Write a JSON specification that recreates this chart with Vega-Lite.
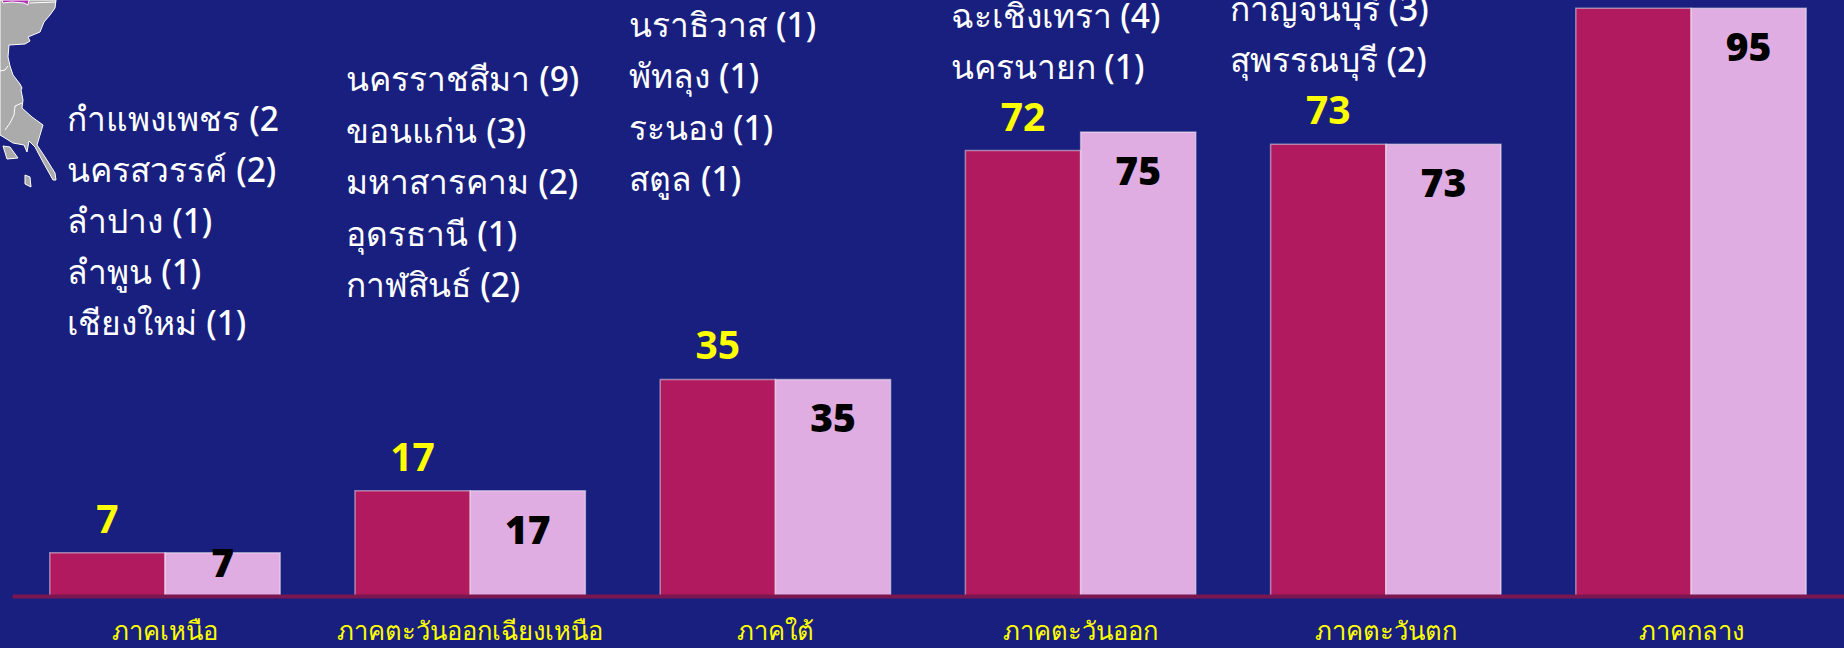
{
"$schema":"https://vega.github.io/schema/vega-lite/v6.json",
"width":1832,"height":596,
"autosize":"none",
"padding":{"left":12,"top":0,"right":0,"bottom":52},
"background":"#181F7E",
"config":{"view":{"stroke":null},"font":"Noto Sans"},
"datasets":{
"bars":[
{"region":"ภาคเหนือ","series":"a","value":7},
{"region":"ภาคเหนือ","series":"b","value":7},
{"region":"ภาคตะวันออกเฉียงเหนือ","series":"a","value":17},
{"region":"ภาคตะวันออกเฉียงเหนือ","series":"b","value":17},
{"region":"ภาคใต้","series":"a","value":35},
{"region":"ภาคใต้","series":"b","value":35},
{"region":"ภาคตะวันออก","series":"a","value":72},
{"region":"ภาคตะวันออก","series":"b","value":75},
{"region":"ภาคตะวันตก","series":"a","value":73},
{"region":"ภาคตะวันตก","series":"b","value":73},
{"region":"ภาคกลาง","series":"a","value":95},
{"region":"ภาคกลาง","series":"b","value":95}
],
"lists":[
{"region":"ภาคเหนือ","value":7,"lines":"กำแพงเพชร (2\nนครสวรรค์ (2)\nลำปาง (1)\nลำพูน (1)\nเชียงใหม่ (1)"},
{"region":"ภาคตะวันออกเฉียงเหนือ","value":17,"lines":"นครราชสีมา (9)\nขอนแก่น (3)\nมหาสารคาม (2)\nอุดรธานี (1)\nกาฬสินธ์ (2)"},
{"region":"ภาคใต้","value":35,"lines":"นราธิวาส (1)\nพัทลุง (1)\nระนอง (1)\nสตูล (1)"},
{"region":"ภาคตะวันออก","value":72,"lines":"ฉะเชิงเทรา (4)\nนครนายก (1)"},
{"region":"ภาคตะวันตก","value":73,"lines":"กาญจนบุรี (3)\nสุพรรณบุรี (2)"}
],
"land":[{"type":"Feature","properties":{},"geometry":{"type":"Polygon","coordinates":[[[0,0],[56,0],[55,8],[50,15],[44,22],[40,32],[28,37],[30,41],[25,44],[9,45],[8,57],[10,66],[13,75],[20,84],[22,88],[21,90],[23,100],[22,108],[32,117],[43,125],[40,135],[37,145],[45,157],[55,173],[56,180],[53,180],[43,162],[35,147],[29,141],[27,152],[24,145],[13,143],[5,138],[0,135],[0,0]]]}},
{"type":"Feature","properties":{},"geometry":{"type":"Polygon","coordinates":[[[3,146],[10,147],[18,158],[7,159],[3,146]]]}},
{"type":"Feature","properties":{},"geometry":{"type":"Polygon","coordinates":[[[25,175],[30,177],[31,187],[25,184],[25,175]]]}}],
"borders":[{"type":"Feature","properties":{},"geometry":{"type":"MultiLineString","coordinates":[[[56,2],[30,3]],[[0,71],[5,70],[8,66]],[[22,103],[15,106],[14,115],[10,123],[5,130]]]}}],
"province":[{"type":"Feature","properties":{},"geometry":{"type":"Polygon","coordinates":[[[2,0],[29,0],[28,5],[24,3],[12,2],[3,3],[2,0]]]}}]
},
"layer":[
{"data":{"name":"land"},"projection":{"type":"identity","scale":1,"translate":[-12,0]},"mark":{"type":"geoshape","clip":false,"fill":"#ABABAB","stroke":"#FFFFFF","strokeWidth":1}},
{"data":{"name":"province"},"projection":{"type":"identity","scale":1,"translate":[-12,0]},"mark":{"type":"geoshape","clip":false,"fill":"#B233B2","stroke":"#FFFFFF","strokeWidth":1}},
{"data":{"name":"borders"},"projection":{"type":"identity","scale":1,"translate":[-12,0]},"mark":{"type":"geoshape","clip":false,"filled":false,"stroke":"#FFFFFF","strokeWidth":1}},
{"data":{"name":"bars"},
"mark":{"type":"bar","stroke":"#FFFFFF","strokeOpacity":0.45,"strokeWidth":1.5},
"encoding":{
"x":{"field":"region","type":"nominal","sort":null,"title":null,
"scale":{"paddingInner":0.245,"paddingOuter":0.1238},
"axis":{"ticks":false,"labelAngle":0,"domain":true,"domainColor":"#7A1650","domainWidth":4,"labelColor":"#FFFF00","labelFontSize":25.5,"labelFont":"Noto Sans","labelFontWeight":500,"labelPadding":23,"labelOverlap":false,"labelLimit":400,"zindex":1}},
"xOffset":{"field":"series","type":"nominal","scale":{"paddingInner":0}},
"y":{"field":"value","type":"quantitative","title":null,"scale":{"domain":[0,96.33],"nice":false},"axis":null},
"color":{"field":"series","type":"nominal","legend":null,"scale":{"domain":["a","b"],"range":["#B21A5F","#DFADE2"]}}
}},
{"data":{"name":"bars"},"transform":[{"filter":"datum.series==='a' && datum.value<90"}],
"mark":{"type":"text","color":"#FFFF00","fontSize":39,"fontWeight":"bold","baseline":"middle","dy":-32},
"encoding":{"x":{"field":"region","type":"nominal","sort":null},"xOffset":{"field":"series","type":"nominal"},"y":{"field":"value","type":"quantitative"},"text":{"field":"value","type":"quantitative"}}},
{"data":{"name":"bars"},"transform":[{"filter":"datum.series==='b' && datum.value===7"}],
"mark":{"type":"text","color":"#000000","fontSize":39,"fontWeight":900,"baseline":"middle","dy":12},
"encoding":{"x":{"field":"region","type":"nominal","sort":null},"xOffset":{"field":"series","type":"nominal"},"y":{"field":"value","type":"quantitative"},"text":{"field":"value","type":"quantitative"}}},
{"data":{"name":"bars"},"transform":[{"filter":"datum.series==='b' && datum.value!==7"}],
"mark":{"type":"text","color":"#000000","fontSize":39,"fontWeight":900,"baseline":"middle","dy":41},
"encoding":{"x":{"field":"region","type":"nominal","sort":null},"xOffset":{"field":"series","type":"nominal"},"y":{"field":"value","type":"quantitative"},"text":{"field":"value","type":"quantitative"}}},
{"data":{"name":"lists"},"transform":[{"filter":"datum.region==='ภาคเหนือ'"}],
"mark":{"type":"text","color":"#FFFFFF","fontSize":33.5,"fontWeight":500,"align":"left","baseline":"middle","lineBreak":"\n","lineHeight":51,"dx":-97.5,"dy":-432},
"encoding":{"x":{"field":"region","type":"nominal","sort":null},"y":{"field":"value","type":"quantitative"},"text":{"field":"lines"}}},
{"data":{"name":"lists"},"transform":[{"filter":"datum.region==='ภาคตะวันออกเฉียงเหนือ'"}],
"mark":{"type":"text","color":"#FFFFFF","fontSize":33.5,"fontWeight":500,"align":"left","baseline":"middle","lineBreak":"\n","lineHeight":51.5,"dx":-123.7,"dy":-409.4},
"encoding":{"x":{"field":"region","type":"nominal","sort":null},"y":{"field":"value","type":"quantitative"},"text":{"field":"lines"}}},
{"data":{"name":"lists"},"transform":[{"filter":"datum.region==='ภาคใต้'"}],
"mark":{"type":"text","color":"#FFFFFF","fontSize":33.5,"fontWeight":500,"align":"left","baseline":"middle","lineBreak":"\n","lineHeight":51.5,"dx":-146,"dy":-352.5},
"encoding":{"x":{"field":"region","type":"nominal","sort":null},"y":{"field":"value","type":"quantitative"},"text":{"field":"lines"}}},
{"data":{"name":"lists"},"transform":[{"filter":"datum.region==='ภาคตะวันออก'"}],
"mark":{"type":"text","color":"#FFFFFF","fontSize":33.5,"fontWeight":500,"align":"left","baseline":"middle","lineBreak":"\n","lineHeight":51.5,"dx":-130,"dy":-133},
"encoding":{"x":{"field":"region","type":"nominal","sort":null},"y":{"field":"value","type":"quantitative"},"text":{"field":"lines"}}},
{"data":{"name":"lists"},"transform":[{"filter":"datum.region==='ภาคตะวันตก'"}],
"mark":{"type":"text","color":"#FFFFFF","fontSize":33.5,"fontWeight":500,"align":"left","baseline":"middle","lineBreak":"\n","lineHeight":51.5,"dx":-156,"dy":-133.5},
"encoding":{"x":{"field":"region","type":"nominal","sort":null},"y":{"field":"value","type":"quantitative"},"text":{"field":"lines"}}}
]
}
